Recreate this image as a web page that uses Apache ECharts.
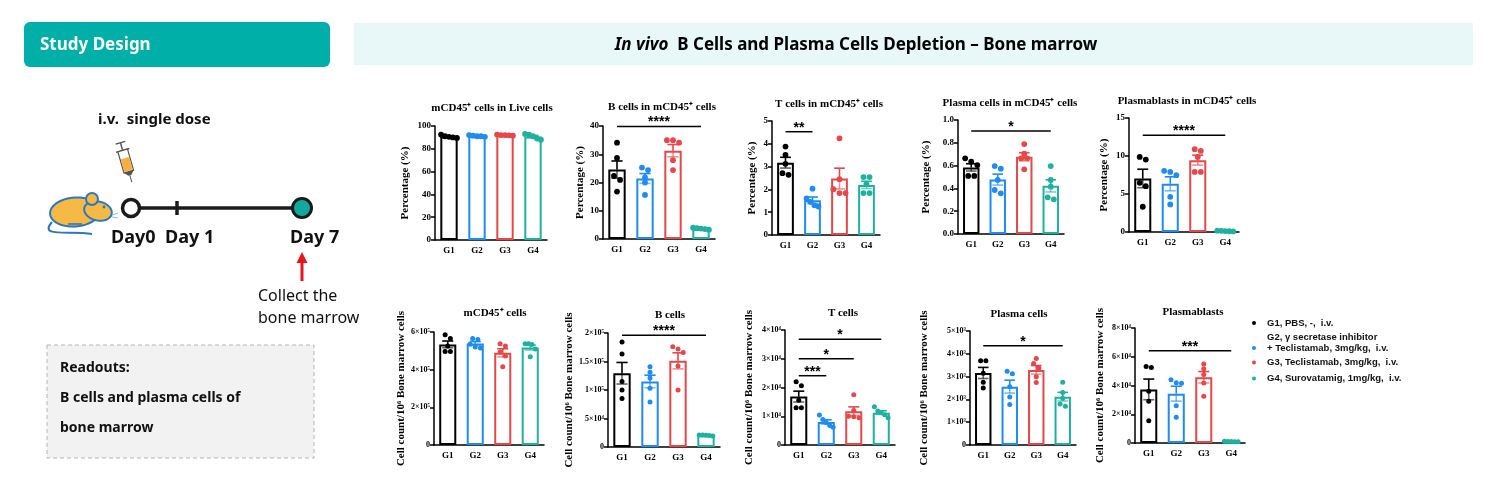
<!DOCTYPE html>
<html>
<head>
<meta charset="utf-8">
<script src="https://cdn.jsdelivr.net/npm/echarts@6/dist/echarts.min.js"></script>
<style>
  html, body { margin: 0; padding: 0; background: #fff; }
  #main { width: 1507px; height: 484px; }
</style>
</head>
<body>
<div id="main"></div>
<script>
var groups = ['G1', 'G2', 'G3', 'G4'];
var groupColors = ['#000000', '#1e8cf0', '#e8474a', '#1fb1a0'];
var legendLines = [
  ['G1, PBS, -,  i.v.'],
  ['G2, γ secretase inhibitor', '+ Teclistamab, 3mg/kg,  i.v.'],
  ['G3, Teclistamab, 3mg/kg,  i.v.'],
  ['G4, Surovatamig, 1mg/kg,  i.v.']
];

// percentage of parent population, 5 mice per group
var cd45InLive = [[92.5, 91, 90.5, 90, 89.5], [92, 91.5, 91, 91, 90.5], [92.5, 92, 92, 91.8, 91.5], [93, 92.5, 91, 89, 88]];
var bInCd45 = [[34.1, 28.7, 22.3, 20.9, 16.8], [25.3, 24.4, 21.8, 20, 15.6], [35, 35, 34.1, 27.9, 24.4], [4, 3.8, 3.7, 3.5, 3.3]];
var tInCd45 = [[3.88, 3.51, 3.12, 2.71, 2.64], [2.03, 1.6, 1.45, 1.3, 1.25], [4.24, 2.45, 2.01, 1.84, 1.84], [2.54, 2.54, 2.23, 1.84, 1.84]];
var plasmaInCd45 = [[0.664, 0.634, 0.605, 0.509, 0.509], [0.596, 0.573, 0.474, 0.386, 0.357], [0.789, 0.705, 0.664, 0.664, 0.567], [0.596, 0.474, 0.415, 0.322, 0.304]];
var pbInCd45 = [[9.88, 9.53, 6.47, 6.03, 3.32], [8.05, 7.91, 7.48, 4.63, 3.63], [10.9, 10.67, 9.88, 7.91, 7.91], [0.18, 0.15, 0.12, 0.1, 0.08]];

// cell count per 10^6 bone marrow cells
var cd45Count = [[586000, 565000, 526000, 497000, 497000], [565000, 560000, 535000, 520000, 515000], [538000, 526000, 494000, 473000, 415000], [538000, 538000, 533000, 510000, 468000]];
var bCount = [[184000, 163000, 115000, 100000, 85000], [141000, 131000, 121000, 103000, 79000], [176000, 172000, 166000, 142000, 100000], [21000, 21000, 20500, 20000, 19500]];
var tCount = [[22000, 20600, 15600, 13000, 13000], [10400, 8900, 7800, 6800, 6200], [17500, 12000, 10000, 9800, 9500], [13300, 11800, 11200, 10500, 9500]];
var plasmaCount = [[3700, 3700, 3150, 2750, 2500], [3240, 3130, 2550, 2100, 1780], [3790, 3570, 3380, 2990, 2740], [2750, 2300, 2050, 1800, 1700]];
var pbCount = [[53300, 52600, 36000, 29000, 15500], [44000, 42000, 41500, 26000, 18000], [55000, 51700, 47600, 41800, 32500], [1200, 1000, 1000, 900, 800]];

// significance brackets: [from group, to group, height, stars]
var bInCd45Sig = [[0, 3, 39.8, '****']];
var tInCd45Sig = [[0, 1, 4.53, '**']];
var plasmaInCd45Sig = [[0, 3, 0.903, '*']];
var pbInCd45Sig = [[0, 3, 12.73, '****']];
var bCountSig = [[0, 3, 196000, '****']];
var tCountSig = [[0, 1, 24100, '***'], [0, 2, 30000, '*'], [0, 3, 36800, '*']];
var plasmaCountSig = [[0, 3, 4350, '*']];
var pbCountSig = [[0, 3, 64200, '***']];

// tick labels
var ticksLive = ['0', '20', '40', '60', '80', '100'];
var ticksB = ['0', '10', '20', '30', '40'];
var ticksT = ['0', '1', '2', '3', '4', '5'];
var ticksPlasma = ['0.0', '0.2', '0.4', '0.6', '0.8', '1.0'];
var ticksPb = ['0', '5', '10', '15'];
var ticksCd45Count = ['0', '2×10⁵', '4×10⁵', '6×10⁵'];
var ticksBCount = ['0', '5×10⁴', '1×10⁵', '1.5×10⁵', '2×10⁵'];
var ticksTCount = ['0', '1×10⁴', '2×10⁴', '3×10⁴', '4×10⁴'];
var ticksPlasmaCount = ['0', '1×10³', '2×10³', '3×10³', '4×10³', '5×10³'];
var ticksPbCount = ['0', '2×10⁴', '4×10⁴', '6×10⁴', '8×10⁴'];

var pctName = 'Percentage (%)';
var countName = 'Cell count/10⁶ Bone marrow cells';

var panels = [
  { title: 'mCD45⁺ cells in Live cells', yName: pctName, values: cd45InLive, max: 100, interval: 20, ticks: ticksLive, sig: [] },
  { title: 'B cells in mCD45⁺ cells', yName: pctName, values: bInCd45, max: 40, interval: 10, ticks: ticksB, sig: bInCd45Sig },
  { title: 'T cells in mCD45⁺ cells', yName: pctName, values: tInCd45, max: 5, interval: 1, ticks: ticksT, sig: tInCd45Sig },
  { title: 'Plasma cells in mCD45⁺ cells', yName: pctName, values: plasmaInCd45, max: 1, interval: 0.2, ticks: ticksPlasma, sig: plasmaInCd45Sig },
  { title: 'Plasmablasts in mCD45⁺ cells', yName: pctName, values: pbInCd45, max: 15, interval: 5, ticks: ticksPb, sig: pbInCd45Sig },
  { title: 'mCD45⁺ cells', yName: countName, values: cd45Count, max: 600000, interval: 200000, ticks: ticksCd45Count, sig: [] },
  { title: 'B cells', yName: countName, values: bCount, max: 200000, interval: 50000, ticks: ticksBCount, sig: bCountSig },
  { title: 'T cells', yName: countName, values: tCount, max: 40000, interval: 10000, ticks: ticksTCount, sig: tCountSig },
  { title: 'Plasma cells', yName: countName, values: plasmaCount, max: 5000, interval: 1000, ticks: ticksPlasmaCount, sig: plasmaCountSig },
  { title: 'Plasmablasts', yName: countName, values: pbCount, max: 80000, interval: 20000, ticks: ticksPbCount, sig: pbCountSig }
];

// where each small plot sits on the page
var layout = [
  { left: 435, top: 126, width: 112, height: 114, tx: 492, ty: 108, gap: 24, font: 9, r: 2.9 },
  { left: 603, top: 126, width: 112, height: 113, tx: 662, ty: 107, gap: 17, font: 9, r: 2.9 },
  { left: 772, top: 121, width: 108, height: 114, tx: 829, ty: 104, gap: 14, font: 9, r: 2.9 },
  { left: 958, top: 120, width: 106, height: 114, tx: 1010, ty: 103, gap: 26, font: 9, r: 2.9 },
  { left: 1129, top: 118, width: 110, height: 114, tx: 1187, ty: 101, gap: 19, font: 9, r: 2.9 },
  { left: 434, top: 332, width: 110, height: 113, tx: 495, ty: 313, gap: 27, font: 8, r: 2.5 },
  { left: 608, top: 333, width: 112, height: 114, tx: 670, ty: 315, gap: 26, font: 8, r: 2.5 },
  { left: 785, top: 330, width: 110, height: 115, tx: 843, ty: 313, gap: 30, font: 8, r: 2.5 },
  { left: 970, top: 331, width: 106, height: 114, tx: 1019, ty: 314, gap: 40, font: 8, r: 2.5 },
  { left: 1135, top: 328, width: 110, height: 115, tx: 1193, ty: 312, gap: 29, font: 8, r: 2.5 }
];

var SERIF = "'Liberation Serif', 'Times New Roman', serif";
var SANS = "'Noto Sans', 'Open Sans', sans-serif";

function mean(a) {
  return a.reduce(function (s, v) { return s + v; }, 0) / a.length;
}
function sem(a) {
  var m = mean(a);
  var ss = a.reduce(function (s, v) { return s + (v - m) * (v - m); }, 0);
  return Math.sqrt(ss / (a.length - 1)) / Math.sqrt(a.length);
}

// points with close values are put side by side, like a prism dot plot
function spread(vals, range) {
  var order = vals.map(function (v, i) { return i; }).sort(function (a, b) { return vals[b] - vals[a]; });
  var offs = [];
  var i = 0;
  while (i < order.length) {
    var j = i + 1;
    while (j < order.length && vals[order[j - 1]] - vals[order[j]] < range * 0.04) j++;
    var k = j - i;
    var step = k > 3 ? 0.65 : 1;
    for (var m = 0; m < k; m++) offs[order[i + m]] = (m - (k - 1) / 2) * step;
    i = j;
  }
  return offs;
}

var grids = [], xAxes = [], yAxes = [], series = [], graphics = [];

panels.forEach(function (p, k) {
  var L = layout[k];
  grids.push({ left: L.left, top: L.top, width: L.width, height: L.height, containLabel: false, outerBoundsMode: 'none' });
  xAxes.push({
    type: 'category', gridIndex: k, data: groups,
    axisLine: { lineStyle: { color: '#000', width: 1.5 } },
    axisTick: { alignWithLabel: true, length: 4, lineStyle: { color: '#000', width: 1.5 } },
    axisLabel: { color: '#000', fontFamily: SERIF, fontWeight: 'bold', fontSize: 9, margin: 6 }
  });
  yAxes.push({
    type: 'value', gridIndex: k, min: 0, max: p.max, interval: p.interval,
    axisLine: { show: true, lineStyle: { color: '#000', width: 1.5 } },
    axisTick: { show: true, length: 4, lineStyle: { color: '#000', width: 1.5 } },
    splitLine: { show: false },
    axisLabel: {
      color: '#000', fontFamily: SERIF, fontWeight: 'bold', fontSize: L.font, margin: 4,
      formatter: function (v) { return p.ticks[Math.round(v / p.interval)]; }
    },
    name: p.yName, nameLocation: 'middle', nameGap: L.gap, nameRotate: 90,
    nameTextStyle: { color: '#000', fontFamily: SERIF, fontWeight: 'bold', fontSize: 11 }
  });

  series.push({
    type: 'bar', xAxisIndex: k, yAxisIndex: k, barWidth: '62%', silent: true, z: 2,
    data: p.values.map(function (g, i) {
      return { value: mean(g), itemStyle: { color: '#fff', borderColor: groupColors[i], borderWidth: 2 } };
    })
  });

  series.push({
    type: 'custom', xAxisIndex: k, yAxisIndex: k, silent: true, z: 3,
    data: p.values.map(function (g, i) { return [i, mean(g), sem(g)]; }),
    renderItem: function (params, api) {
      var i = api.value(0), m = api.value(1), s = api.value(2);
      var top = api.coord([i, m + s]), mid = api.coord([i, m]), bot = api.coord([i, m - s]);
      var half = api.size([1, 0])[0] * 0.2;
      var st = { stroke: groupColors[i], lineWidth: 1.6 };
      var stLow = { stroke: groupColors[i], lineWidth: 1.6, opacity: 0.6 };
      return { type: 'group', children: [
        { type: 'line', shape: { x1: top[0], y1: top[1], x2: mid[0], y2: mid[1] }, style: st },
        { type: 'line', shape: { x1: top[0] - half, y1: top[1], x2: top[0] + half, y2: top[1] }, style: st },
        { type: 'line', shape: { x1: mid[0], y1: mid[1], x2: bot[0], y2: bot[1] }, style: stLow },
        { type: 'line', shape: { x1: bot[0] - half, y1: bot[1], x2: bot[0] + half, y2: bot[1] }, style: stLow }
      ] };
    }
  });

  var dots = [];
  p.values.forEach(function (g, i) {
    var offs = spread(g, p.max);
    g.forEach(function (v, j) { dots.push([i, v, offs[j]]); });
  });
  series.push({
    type: 'custom', xAxisIndex: k, yAxisIndex: k, silent: true, z: 4, data: dots,
    renderItem: function (params, api) {
      var c = api.coord([api.value(0), api.value(1)]);
      var step = L.r * 2.1;
      return { type: 'circle', shape: { cx: c[0] + api.value(2) * step, cy: c[1], r: L.r }, style: { fill: groupColors[api.value(0)] } };
    }
  });

  if (p.sig.length) {
    series.push({
      type: 'custom', xAxisIndex: k, yAxisIndex: k, silent: true, clip: false, z: 4,
      data: p.sig.map(function (s) { return [s[0], s[1], s[2]]; }),
      renderItem: function (params, api) {
        var a = api.coord([api.value(0), api.value(2)]), b = api.coord([api.value(1), api.value(2)]);
        return { type: 'group', children: [
          { type: 'line', shape: { x1: a[0], y1: a[1], x2: b[0], y2: b[1] }, style: { stroke: '#000', lineWidth: 1.5 } },
          { type: 'text', x: (a[0] + b[0]) / 2, y: a[1] - 4, style: {
            text: p.sig[params.dataIndex][3], fill: '#000', align: 'center', verticalAlign: 'middle',
            font: "bold 14px 'Liberation Sans', Arial, sans-serif"
          } }
        ] };
      }
    });
  }

  graphics.push({ type: 'text', x: L.tx, y: L.ty, style: {
    text: p.title, fill: '#000', align: 'center', verticalAlign: 'middle',
    font: 'bold 11px ' + SERIF
  } });
});

// ---- header and study design panel ----
function ellipse(cx, cy, rx, ry, rot) {
  var pts = [];
  for (var k = 0; k < 48; k++) {
    var a = k / 48 * Math.PI * 2;
    var x = rx * Math.cos(a), y = ry * Math.sin(a);
    pts.push([cx + x * Math.cos(rot) - y * Math.sin(rot), cy + x * Math.sin(rot) + y * Math.cos(rot)]);
  }
  return pts;
}

var mouseFill = '#f6b945', mouseLine = '#2b78c2';
graphics.push(
  { type: 'rect', shape: { x: 24, y: 22, width: 306, height: 45, r: 6 }, style: { fill: '#00b0a8' } },
  { type: 'text', x: 40, y: 45, style: { text: 'Study Design', fill: '#fff', verticalAlign: 'middle', font: 'bold 17px ' + SANS } },
  { type: 'rect', shape: { x: 354, y: 23, width: 1119, height: 42 }, style: { fill: '#e8f7f7' } },
  { type: 'text', x: 856, y: 45, style: {
    text: '{i|In vivo}{b|  B Cells and Plasma Cells Depletion – Bone marrow}', align: 'center', verticalAlign: 'middle',
    rich: {
      i: { font: 'italic bold 17px ' + SANS, fill: '#000' },
      b: { font: 'bold 17px ' + SANS, fill: '#000' }
    }
  } },
  { type: 'text', x: 98, y: 120, style: { text: 'i.v.  single dose', fill: '#111', verticalAlign: 'middle', font: 'bold 15px ' + SANS } },
  // syringe
  { type: 'group', x: 126, y: 162, rotation: 0.28, children: [
    { type: 'line', shape: { x1: -5, y1: -20, x2: 5, y2: -20 }, style: { stroke: '#555', lineWidth: 1.4 } },
    { type: 'line', shape: { x1: 0, y1: -20, x2: 0, y2: -12 }, style: { stroke: '#555', lineWidth: 1.4 } },
    { type: 'line', shape: { x1: -7, y1: -12, x2: 7, y2: -12 }, style: { stroke: '#555', lineWidth: 1.4 } },
    { type: 'rect', shape: { x: -5, y: -12, width: 10, height: 22 }, style: { fill: '#fff', stroke: '#555', lineWidth: 1.2 } },
    { type: 'rect', shape: { x: -4.4, y: -4, width: 8.8, height: 13.4 }, style: { fill: '#f5b041' } },
    { type: 'polygon', shape: { points: [[-5, 10], [5, 10], [1.5, 14], [-1.5, 14]] }, style: { fill: '#555' } },
    { type: 'line', shape: { x1: 0, y1: 14, x2: 0, y2: 21 }, style: { stroke: '#555', lineWidth: 1 } }
  ] },
  // mouse
  { type: 'bezierCurve', shape: { x1: 52, y1: 222, x2: 92, y2: 234, cpx1: 38, cpy1: 238, cpx2: 70, cpy2: 230 }, style: { stroke: mouseLine, lineWidth: 2, fill: null } },
  { type: 'polygon', shape: { points: ellipse(75, 212, 25, 14.5, -0.08) }, style: { fill: mouseFill, stroke: mouseLine, lineWidth: 2 } },
  { type: 'polygon', shape: { points: ellipse(98, 211, 14, 9.5, 0.22) }, style: { fill: mouseFill, stroke: mouseLine, lineWidth: 2 } },
  { type: 'circle', shape: { cx: 92, cy: 199, r: 6 }, style: { fill: mouseFill, stroke: mouseLine, lineWidth: 2 } },
  { type: 'circle', shape: { cx: 104, cy: 207, r: 1.4 }, style: { fill: mouseLine } },
  { type: 'line', shape: { x1: 68, y1: 224, x2: 82, y2: 224 }, style: { stroke: mouseLine, lineWidth: 1.6 } },
  { type: 'line', shape: { x1: 112, y1: 215, x2: 118, y2: 213 }, style: { stroke: '#8fb7de', lineWidth: 1 } },
  { type: 'line', shape: { x1: 112, y1: 217, x2: 118, y2: 218 }, style: { stroke: '#8fb7de', lineWidth: 1 } },
  // timeline
  { type: 'line', shape: { x1: 140, y1: 208, x2: 294, y2: 208 }, style: { stroke: '#1a1a1a', lineWidth: 3.5 } },
  { type: 'line', shape: { x1: 177, y1: 201, x2: 177, y2: 215 }, style: { stroke: '#1a1a1a', lineWidth: 3.5 } },
  { type: 'circle', shape: { cx: 131, cy: 208, r: 8.5 }, style: { fill: '#fff', stroke: '#1a1a1a', lineWidth: 3.5 } },
  { type: 'circle', shape: { cx: 302, cy: 208, r: 9.5 }, style: { fill: '#13a89e', stroke: '#1a1a1a', lineWidth: 3 } },
  { type: 'text', x: 111, y: 238, style: { text: 'Day0', fill: '#111', verticalAlign: 'middle', font: 'bold 18px ' + SANS } },
  { type: 'text', x: 165, y: 238, style: { text: 'Day 1', fill: '#111', verticalAlign: 'middle', font: 'bold 18px ' + SANS } },
  { type: 'text', x: 290, y: 238, style: { text: 'Day 7', fill: '#111', verticalAlign: 'middle', font: 'bold 18px ' + SANS } },
  { type: 'line', shape: { x1: 302, y1: 281, x2: 302, y2: 261 }, style: { stroke: '#e8141b', lineWidth: 3 } },
  { type: 'polygon', shape: { points: [[302, 252], [296.5, 263], [307.5, 263]] }, style: { fill: '#e8141b' } },
  { type: 'text', x: 258, y: 296, style: { text: 'Collect the', fill: '#111', verticalAlign: 'middle', font: '16px ' + SANS } },
  { type: 'text', x: 258, y: 318, style: { text: 'bone marrow', fill: '#111', verticalAlign: 'middle', font: '16px ' + SANS } },
  // readouts box
  { type: 'rect', shape: { x: 47, y: 345, width: 267, height: 113 }, style: { fill: '#f2f2f2', stroke: '#b5b5b5', lineWidth: 1, lineDash: [4, 3] } },
  { type: 'text', x: 60, y: 368, style: { text: 'Readouts:', fill: '#111', verticalAlign: 'middle', font: 'bold 14px ' + SANS } },
  { type: 'text', x: 60, y: 398, style: { text: 'B cells and plasma cells of', fill: '#111', verticalAlign: 'middle', font: 'bold 14px ' + SANS } },
  { type: 'text', x: 60, y: 428, style: { text: 'bone marrow', fill: '#111', verticalAlign: 'middle', font: 'bold 14px ' + SANS } }
);

// legend
var legendRows = [[323], [337, 348], [362.5], [378.5]];
legendLines.forEach(function (lines, i) {
  var ys = legendRows[i];
  graphics.push({ type: 'circle', shape: { cx: 1254, cy: ys[ys.length - 1], r: 2 }, style: { fill: groupColors[i] } });
  lines.forEach(function (t, j) {
    graphics.push({ type: 'text', x: 1267, y: ys[j], style: {
      text: t, fill: '#111', verticalAlign: 'middle', font: "bold 9.5px 'Liberation Sans', Arial, sans-serif"
    } });
  });
});

var chart = echarts.init(document.getElementById('main'));
chart.setOption({
  animation: false,
  grid: grids,
  xAxis: xAxes,
  yAxis: yAxes,
  series: series,
  graphic: { elements: graphics }
});
</script>
</body>
</html>
